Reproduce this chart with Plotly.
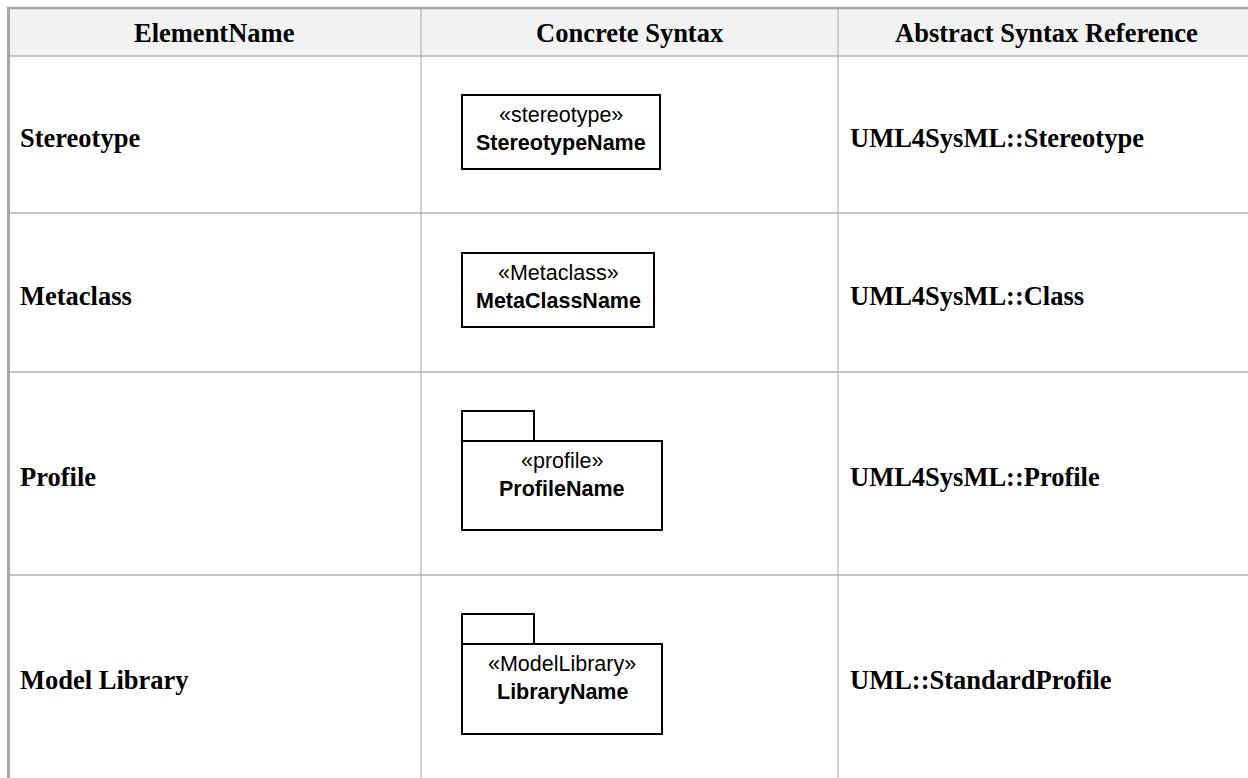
import plotly.graph_objects as go

# ---------------- data ----------------
headers = ["ElementName", "Concrete Syntax", "Abstract Syntax Reference"]
element_names = ["Stereotype", "Metaclass", "Profile", "Model Library"]
keywords = ["«stereotype»", "«Metaclass»", "«profile»", "«ModelLibrary»"]
symbol_names = ["StereotypeName", "MetaClassName", "ProfileName", "LibraryName"]
symbol_kinds = ["class", "class", "package", "package"]
abstract_refs = ["UML4SysML::Stereotype", "UML4SysML::Class",
                 "UML4SysML::Profile", "UML::StandardProfile"]

# ---------------- layout constants ----------------
W, H = 1248, 778
TABLE_LEFT, TABLE_TOP, TABLE_RIGHT = 8, 7, 1254
COL_EDGES = [TABLE_LEFT, 421, 838, TABLE_RIGHT]
HEADER_BOTTOM = 56
ROW_EDGES = [HEADER_BOTTOM, 213, 372, 575, 779]
TEXT_PAD = 10
# symbol geometry: (left, top, right, bottom) of the main box
SYMBOL_BOXES = [(462, 95, 660, 169), (462, 253, 654, 327),
                (462, 441, 662, 530), (462, 644, 662, 734)]
TAB_W, TAB_H = 72, 30

SERIF = "Liberation Serif, Times New Roman, serif"
SANS = "Liberation Sans, Arial, sans-serif"
GRID = "#b3b3b3"
BORDER = "#a6a6a6"
SERIF_SIZE = 26.5
SANS_SIZE = 21.5

fig = go.Figure()
fig.add_trace(go.Scatter(x=[0, W], y=[0, H], mode="markers",
                         marker=dict(opacity=0), hoverinfo="skip", showlegend=False))

shapes = []
annotations = []

# header background
shapes.append(dict(type="rect", x0=TABLE_LEFT, x1=TABLE_RIGHT, y0=TABLE_TOP, y1=HEADER_BOTTOM,
                   fillcolor="#f2f2f2", line=dict(width=0), layer="below"))

# horizontal lines
for y in ROW_EDGES[:-1]:
    shapes.append(dict(type="line", x0=TABLE_LEFT, x1=TABLE_RIGHT, y0=y, y1=y,
                       line=dict(color=GRID, width=1.5)))
# inner vertical lines
for x in COL_EDGES[1:-1]:
    shapes.append(dict(type="line", x0=x, x1=x, y0=TABLE_TOP, y1=ROW_EDGES[-1],
                       line=dict(color=GRID, width=1.2)))
# outer borders
shapes.append(dict(type="line", x0=TABLE_LEFT - 1, x1=TABLE_RIGHT, y0=TABLE_TOP + 1, y1=TABLE_TOP + 1,
                    line=dict(color=BORDER, width=2.5)))
shapes.append(dict(type="line", x0=TABLE_LEFT + 0.5, x1=TABLE_LEFT + 0.5, y0=TABLE_TOP, y1=ROW_EDGES[-1],
                    line=dict(color=BORDER, width=3)))

# header texts
for i, h in enumerate(headers):
    cx = (COL_EDGES[i] + COL_EDGES[i + 1]) / 2
    annotations.append(dict(x=cx, y=(TABLE_TOP + HEADER_BOTTOM) / 2 + 1, text=f"<b>{h}</b>",
                            showarrow=False, xanchor="center", yanchor="middle",
                            font=dict(family=SERIF, size=SERIF_SIZE, color="black")))

# rows
for r in range(len(element_names)):
    cy = (ROW_EDGES[r] + ROW_EDGES[r + 1]) / 2
    annotations.append(dict(x=COL_EDGES[0] + TEXT_PAD, y=cy + 3, text=f"<b>{element_names[r]}</b>",
                            showarrow=False, xanchor="left", yanchor="middle",
                            font=dict(family=SERIF, size=SERIF_SIZE, color="black")))
    annotations.append(dict(x=COL_EDGES[2] + TEXT_PAD, y=cy + 3, text=f"<b>{abstract_refs[r]}</b>",
                            showarrow=False, xanchor="left", yanchor="middle",
                            font=dict(family=SERIF, size=SERIF_SIZE, color="black")))

    x0, y0, x1, y1 = SYMBOL_BOXES[r]
    if symbol_kinds[r] == "package":
        shapes.append(dict(type="rect", x0=x0, x1=x0 + TAB_W, y0=y0 - TAB_H, y1=y0,
                           line=dict(color="black", width=2), fillcolor="white"))
    shapes.append(dict(type="rect", x0=x0, x1=x1, y0=y0, y1=y1,
                       line=dict(color="black", width=2), fillcolor="white"))
    bx = (x0 + x1) / 2
    annotations.append(dict(x=bx, y=y0 + 20, text=keywords[r], showarrow=False,
                            xanchor="center", yanchor="middle",
                            font=dict(family=SANS, size=SANS_SIZE, color="black")))
    annotations.append(dict(x=bx, y=y0 + 48, text=f"<b>{symbol_names[r]}</b>", showarrow=False,
                            xanchor="center", yanchor="middle",
                            font=dict(family=SANS, size=SANS_SIZE, color="black")))

fig.update_layout(
    width=W, height=H,
    margin=dict(l=0, r=0, t=0, b=0),
    paper_bgcolor="white", plot_bgcolor="white",
    xaxis=dict(range=[0, W], visible=False, fixedrange=True),
    yaxis=dict(range=[H, 0], visible=False, fixedrange=True),
    shapes=shapes, annotations=annotations,
    showlegend=False,
)

fig.write_html(
    "out.html",
    config={"displayModeBar": False},
    post_script="document.body.style.margin='0';document.body.style.overflow='hidden';",
)
